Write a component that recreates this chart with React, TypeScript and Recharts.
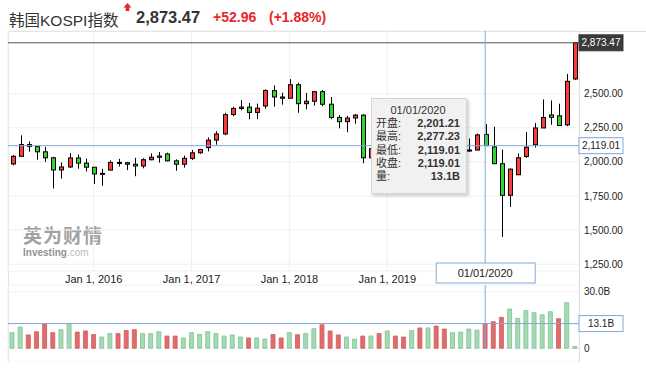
import React from "react";
import {
  ComposedChart,
  Bar,
  Cell,
  XAxis,
  YAxis,
  CartesianGrid,
  ReferenceLine,
} from "recharts";

// monthly KOSPI candles, Mar 2015 - Dec 2020
const months = [
  "2015-03", "2015-04", "2015-05", "2015-06", "2015-07", "2015-08", "2015-09", "2015-10", "2015-11", "2015-12",
  "2016-01", "2016-02", "2016-03", "2016-04", "2016-05", "2016-06", "2016-07", "2016-08", "2016-09", "2016-10", "2016-11", "2016-12",
  "2017-01", "2017-02", "2017-03", "2017-04", "2017-05", "2017-06", "2017-07", "2017-08", "2017-09", "2017-10", "2017-11", "2017-12",
  "2018-01", "2018-02", "2018-03", "2018-04", "2018-05", "2018-06", "2018-07", "2018-08", "2018-09", "2018-10", "2018-11", "2018-12",
  "2019-01", "2019-02", "2019-03", "2019-04", "2019-05", "2019-06", "2019-07", "2019-08", "2019-09", "2019-10", "2019-11", "2019-12",
  "2020-01", "2020-02", "2020-03", "2020-04", "2020-05", "2020-06", "2020-07", "2020-08", "2020-09", "2020-10", "2020-11", "2020-12",
];

const opens = [
  1985, 2041, 2127, 2112, 2074, 2030, 1941, 1963, 2029, 1991,
  1961, 1912, 1940, 1996, 1994, 1983, 1970, 2016, 2034, 2058, 2008, 1983,
  2026, 2067, 2105, 2160, 2205, 2347, 2392, 2402, 2363, 2410, 2523, 2476,
  2467, 2566, 2427, 2445, 2515, 2423, 2326, 2295, 2322, 2343, 2030, 2097,
  2041, 2205, 2195, 2140, 2204, 2041, 2130, 2025, 1967, 2063, 2083, 2087,
  2201.21, 2110, 1987, 1755, 1906, 2040, 2126, 2249, 2344, 2338, 2272, 2608,
];

const highs = [
  2050, 2195, 2150, 2115, 2110, 2038, 1996, 2065, 2055, 2025,
  1961, 1950, 2011, 2022, 2000, 2030, 2027, 2063, 2073, 2068, 2019, 2046,
  2088, 2096, 2180, 2225, 2360, 2405, 2453, 2432, 2428, 2533, 2561, 2508,
  2607, 2580, 2505, 2520, 2527, 2476, 2343, 2338, 2352, 2350, 2118, 2125,
  2205, 2248, 2201, 2253, 2216, 2143, 2133, 2030, 2089, 2101, 2171, 2208,
  2277.23, 2258, 2090, 1952, 2062, 2220, 2285, 2458, 2451, 2427, 2645, 2878,
];

const lows = [
  1975, 2039, 2075, 2016, 2000, 1805, 1878, 1955, 1950, 1930,
  1838, 1825, 1938, 1966, 1940, 1895, 1953, 2012, 1995, 2004, 1935, 1958,
  2014, 2060, 2077, 2126, 2196, 2335, 2379, 2312, 2313, 2390, 2405, 2420,
  2467, 2360, 2386, 2413, 2409, 2313, 2246, 2218, 2280, 1990, 2014, 2030,
  1993, 2179, 2126, 2135, 2017, 2040, 2010, 1891, 1960, 2020, 2076, 2085,
  2119.01, 1987, 1450, 1670, 1903, 2030, 2105, 2249, 2272, 2265, 2262, 2600,
];

const closes = [
  2041, 2127, 2114, 2074, 2030, 1941, 1963, 2029, 1991, 1961,
  1912, 1916, 1996, 1994, 1983, 1970, 2016, 2034, 2043, 2008, 1983, 2026,
  2067, 2091, 2160, 2205, 2347, 2392, 2402, 2363, 2394, 2523, 2476, 2467,
  2566, 2427, 2445, 2515, 2423, 2326, 2295, 2322, 2343, 2030, 2097, 2041,
  2205, 2195, 2140, 2204, 2041, 2130, 2025, 1967, 2063, 2083, 2087, 2198,
  2119.01, 1987, 1755, 1947, 2030, 2108, 2249, 2326, 2327, 2267, 2591, 2873.47,
];

// volume in billions
const volumes = [
  8.3, 11.3, 7.1, 8.8, 12.9, 8.3, 9.9, 13.0, 8.6, 9.2,
  7.3, 6.0, 7.8, 7.8, 9.4, 9.9, 7.8, 7.8, 8.8, 6.5, 6.5, 5.5,
  8.3, 7.3, 8.8, 7.8, 6.5, 7.1, 6.0, 5.5, 5.5, 4.9, 7.3, 5.5,
  8.3, 7.2, 7.8, 10.4, 12.5, 9.2, 7.1, 6.0, 4.9, 6.5, 6.5, 7.8,
  9.2, 6.5, 6.0, 9.4, 10.8, 10.8, 11.8, 10.2, 8.3, 8.6, 10.2, 9.6,
  13.1, 14.1, 16.4, 20.8, 15.9, 20.0, 18.9, 17.8, 19.4, 15.7, 24.2, 0.9,
];

const yearTicks = ["2016-01", "2017-01", "2018-01", "2019-01"];
const priceTicks = [1250, 1500, 1750, 2000, 2250, 2500];
const volumeTicks = [0, 30];

const lastPrice = 2873.47;
const change = "+52.96";
const changePct = "(+1.88%)";
const focusMonth = "2020-01";

const FONT = "Arial, 'Liberation Sans', 'Noto Sans CJK SC', sans-serif";
const CANDLE_UP = "#ff3a3a";
const CANDLE_DOWN = "#2ed62e";
const CROSS = "#7fa7dc";

const rows = months.map((m, i) => ({
  month: m,
  open: opens[i],
  high: highs[i],
  low: lows[i],
  close: closes[i],
  range: [lows[i], highs[i]],
  vol: volumes[i],
}));

const fmt2 = (v: number) =>
  v.toLocaleString("en-US", { minimumFractionDigits: 2, maximumFractionDigits: 2 });

const yearLabel = (m: string) => `Jan 1, ${m.slice(0, 4)}`;
const dateLabel = (m: string) => `${m.slice(5, 7)}/01/${m.slice(0, 4)}`;

const volUp = (i: number) => (i === 0 ? closes[0] >= opens[0] : closes[i] >= closes[i - 1]);

const Candle = (props: any) => {
  const { x, y, width, height, payload } = props;
  if (!payload) return null;
  const { open, close, high, low } = payload;
  const ratio = height / (high - low || 1);
  const cx = Math.round(x + width / 2) + 0.5;
  const yo = y + (high - open) * ratio;
  const yc = y + (high - close) * ratio;
  const top = Math.min(yo, yc);
  const bh = Math.max(Math.abs(yo - yc), 1);
  const up = close >= open;
  return (
    <g>
      <line x1={cx} x2={cx} y1={y} y2={y + height} stroke="#000" strokeWidth={1} />
      <rect
        x={cx - 2}
        y={top}
        width={4}
        height={bh}
        fill={up ? CANDLE_UP : CANDLE_DOWN}
        stroke="#000"
        strokeWidth={1}
      />
    </g>
  );
};

const AxisTag = ({ viewBox, text, dark }: any) => {
  if (!viewBox) return null;
  const left = viewBox.x + viewBox.width;
  const cy = viewBox.y;
  return (
    <g>
      <rect
        x={left}
        y={cy - 8}
        width={44}
        height={16}
        fill={dark ? "#3a3a3a" : "#fff"}
        stroke={dark ? "#3a3a3a" : CROSS}
      />
      <text
        x={left + 22}
        y={cy + 3.5}
        textAnchor="middle"
        fontSize={10}
        fontFamily={FONT}
        fill={dark ? "#fff" : "#222"}
      >
        {text}
      </text>
    </g>
  );
};

const DateTag = ({ viewBox, text }: any) => {
  if (!viewBox) return null;
  const cx = viewBox.x;
  const bottom = viewBox.y + viewBox.height;
  return (
    <g>
      <rect x={cx - 49} y={bottom - 8} width={99} height={20} fill="#fff" stroke={CROSS} />
      <text x={cx} y={bottom + 6} textAnchor="middle" fontSize={11} fontFamily={FONT} fill="#222">
        {text}
      </text>
    </g>
  );
};

export default function App() {
  const fi = months.indexOf(focusMonth);
  const tipRows: [string, string][] = [
    ["开盘:", fmt2(opens[fi])],
    ["最高:", fmt2(highs[fi])],
    ["最低:", fmt2(lows[fi])],
    ["收盘:", fmt2(closes[fi])],
    ["量:", `${volumes[fi].toFixed(1)}B`],
  ];

  return (
    <div
      style={{
        position: "absolute",
        left: 0,
        top: 0,
        width: 646,
        height: 372,
        background: "#fff",
        fontFamily: FONT,
        overflow: "hidden",
      }}
    >
      {/* header */}
      <div style={{ position: "absolute", left: 9, top: 8, fontSize: 15.5, color: "#333", whiteSpace: "nowrap" }}>
        韩国KOSPI指数
      </div>
      <svg style={{ position: "absolute", left: 123, top: 3 }} width={9} height={9}>
        <path d="M4.5 0 L8.5 4.5 L6.3 4.5 L6.3 8 L2.7 8 L2.7 4.5 L0.5 4.5 Z" fill="#e8262b" />
      </svg>
      <div
        style={{ position: "absolute", left: 136, top: 8, fontSize: 16.5, fontWeight: 700, color: "#333" }}
      >
        {fmt2(lastPrice)}
      </div>
      <div style={{ position: "absolute", left: 213, top: 9, fontSize: 14, fontWeight: 700, color: "#e8262b" }}>
        {change}
      </div>
      <div style={{ position: "absolute", left: 269, top: 9, fontSize: 14, fontWeight: 700, color: "#e8262b" }}>
        {changePct}
      </div>

      {/* frame */}
      <div style={{ position: "absolute", left: 8, top: 31, width: 638, height: 1, background: "#dcdcdc" }} />
      <div
        style={{
          position: "absolute",
          left: 8,
          top: 31,
          width: 572,
          height: 331,
          boxSizing: "border-box",
          borderLeft: "1px solid #e2e2e2",
          borderRight: "1px solid #cfd7e2",
        }}
      />

      {/* watermark */}
      <div style={{ position: "absolute", left: 23, top: 226, color: "#8c8c8c", opacity: 0.8 }}>
        <div style={{ fontSize: 19, fontWeight: 700, letterSpacing: 1, lineHeight: "21px" }}>
          英为<span style={{ color: "#8c8c8c" }}>财</span>
          <span style={{ color: "#8c8c8c" }}>情</span>
        </div>
        <div style={{ fontSize: 10, lineHeight: "11px" }}>
          <span style={{ fontWeight: 700, color: "#777" }}>Investing</span>
          <span style={{ color: "#aaa" }}>.com</span>
        </div>
      </div>

      {/* price panel */}
      <div style={{ position: "absolute", left: 0, top: 0 }}>
        <ComposedChart width={646} height={290} data={rows} margin={{ top: 31, right: 0, bottom: 0, left: 8 }}>
          <CartesianGrid stroke="#efefef" />
          <XAxis
            dataKey="month"
            ticks={yearTicks}
            interval={0}
            tickFormatter={yearLabel}
            axisLine={false}
            tickLine={false}
            tickSize={0}
            tickMargin={4}
            height={19}
            tick={{ fontSize: 11, fill: "#222", fontFamily: FONT }}
          />
          <YAxis
            orientation="right"
            type="number"
            domain={[1200, 2960]}
            allowDataOverflow
            ticks={priceTicks}
            interval={0}
            tickFormatter={fmt2}
            axisLine={false}
            tickLine={false}
            tickSize={0}
            tickMargin={5}
            width={67}
            tick={{ fontSize: 10, fill: "#222", fontFamily: FONT }}
          />
          <ReferenceLine y={lastPrice} stroke="#555" strokeWidth={1} label={<AxisTag text={fmt2(lastPrice)} dark />} />
          <ReferenceLine
            y={closes[fi]}
            stroke={CROSS}
            strokeWidth={1}
            label={<AxisTag text={fmt2(closes[fi])} />}
          />
          <Bar dataKey="range" barSize={5} isAnimationActive={false} shape={(p: any) => <Candle {...p} />} />
          <ReferenceLine x={focusMonth} stroke={CROSS} strokeWidth={1} label={<DateTag text={dateLabel(focusMonth)} />} />
        </ComposedChart>
      </div>

      {/* volume panel */}
      <div style={{ position: "absolute", left: 0, top: 271 }}>
        <ComposedChart width={646} height={91} data={rows} margin={{ top: 14, right: 0, bottom: 0, left: 8 }}>
          <CartesianGrid stroke="#f0f0f0" />
          <XAxis
            dataKey="month"
            ticks={yearTicks}
            interval={0}
            tick={false}
            axisLine={false}
            tickLine={false}
            height={0}
          />
          <YAxis
            orientation="right"
            type="number"
            domain={[-7.26, 33.55]}
            allowDataOverflow
            ticks={volumeTicks}
            interval={0}
            tickFormatter={(v: number) => (v === 0 ? "0" : `${v.toFixed(1)}B`)}
            axisLine={false}
            tickLine={false}
            tickSize={0}
            tickMargin={5}
            width={67}
            tick={{ fontSize: 10, fill: "#222", fontFamily: FONT }}
          />
          <ReferenceLine
            segment={[
              { x: focusMonth, y: 33.55 },
              { x: focusMonth, y: 0 },
            ]}
            stroke={CROSS}
          />
          <Bar dataKey="vol" barSize={4} isAnimationActive={false}>
            {rows.map((r, i) => (
              <Cell
                key={r.month}
                fill={volUp(i) ? "#a6d9b4" : "#e16c6c"}
                stroke={volUp(i) ? "#78c48f" : "#d35a5a"}
                strokeWidth={0.8}
              />
            ))}
          </Bar>
          <ReferenceLine
            y={volumes[fi]}
            stroke={CROSS}
            strokeWidth={1}
            label={<AxisTag text={`${volumes[fi].toFixed(1)}B`} />}
          />
        </ComposedChart>
      </div>

      {/* tooltip */}
      <div
        style={{
          position: "absolute",
          left: 371,
          top: 98,
          width: 96,
          height: 96,
          boxSizing: "border-box",
          background: "#f1f1f1",
          border: "1px solid #d6d6d6",
          boxShadow: "2px 2px 3px rgba(0,0,0,0.18)",
          padding: "4px 6px 0 4px",
          fontSize: 11,
          color: "#333",
        }}
      >
        <div style={{ textAlign: "center", lineHeight: "14px" }}>{dateLabel(focusMonth)}</div>
        {tipRows.map(([k, v]) => (
          <div key={k} style={{ display: "flex", justifyContent: "space-between", lineHeight: "13.3px" }}>
            <span>{k}</span>
            <span style={{ fontWeight: 700 }}>{v}</span>
          </div>
        ))}
      </div>
    </div>
  );
}
